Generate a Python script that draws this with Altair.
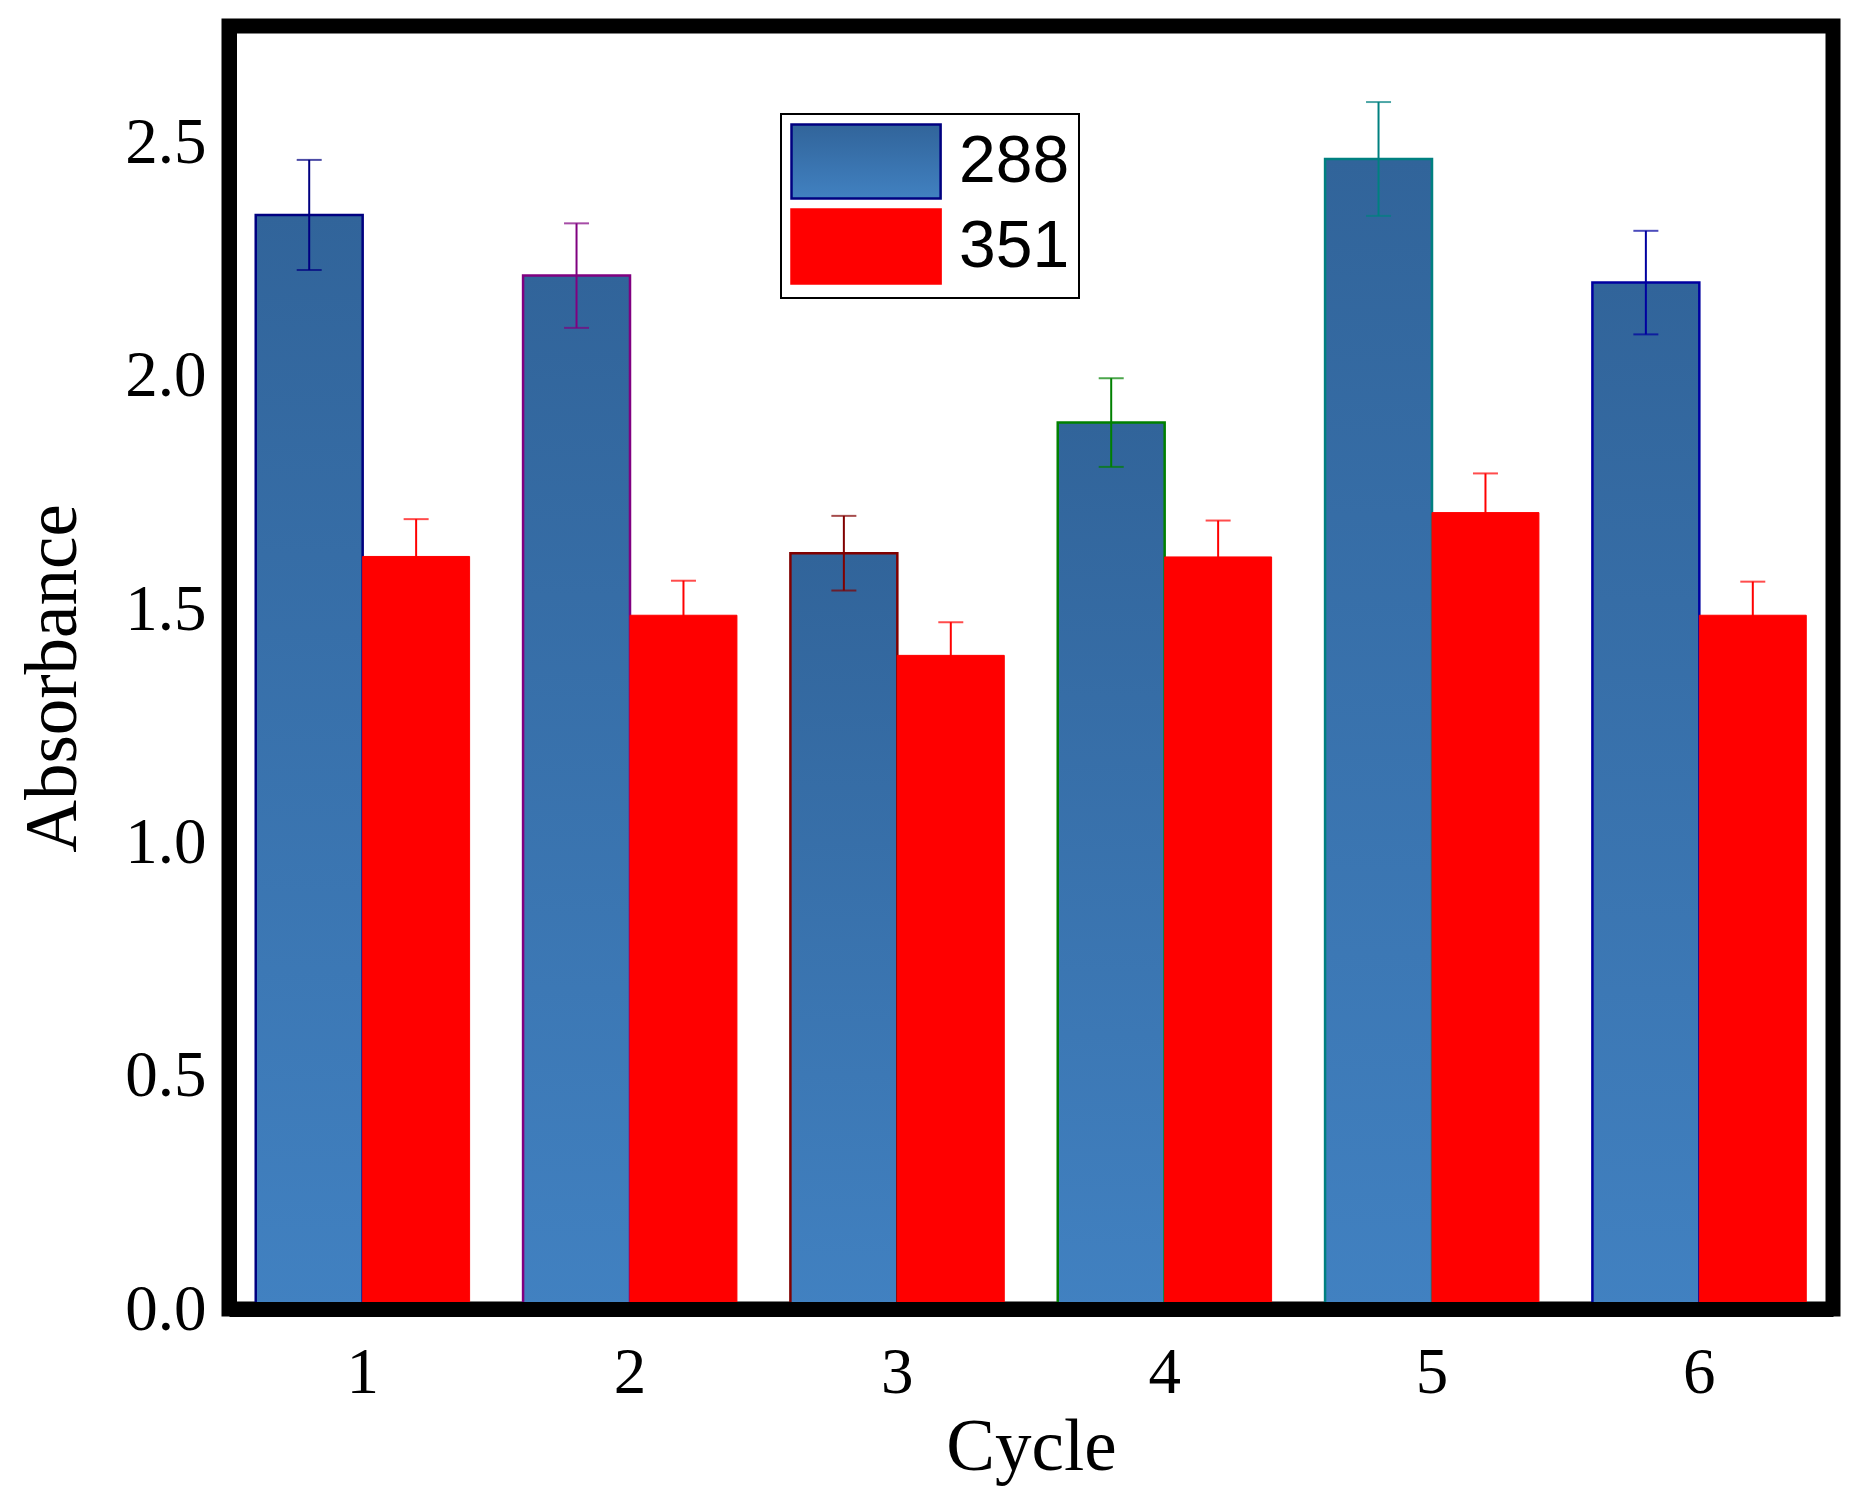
import altair as alt
import pandas as pd

cycles = ["1", "2", "3", "4", "5", "6"]
series = ["288", "351"]
abs_288 = [2.345, 2.215, 1.62, 1.90, 2.465, 2.20]
err_288 = [0.118, 0.112, 0.08, 0.095, 0.122, 0.111]
abs_351 = [1.613, 1.487, 1.401, 1.612, 1.707, 1.487]
err_351 = [0.08, 0.074, 0.071, 0.078, 0.084, 0.072]
y_ticks = [0.0, 0.5, 1.0, 1.5, 2.0, 2.5]

# styles
edge_288 = ["#000080", "#800080", "#800000", "#008000", "#008080", "#0000A0"]
red = "#FF0000"
navy = "#000080"
grad_top = "#31649A"
grad_bot = "#4181C1"

rows = []
for i, c in enumerate(cycles):
    rows.append({"cycle": c, "series": "288", "value": abs_288[i],
                 "lo": abs_288[i] - err_288[i], "hi": abs_288[i] + err_288[i],
                 "edge": edge_288[i]})
    rows.append({"cycle": c, "series": "351", "value": abs_351[i],
                 "lo": abs_351[i] - err_351[i], "hi": abs_351[i] + err_351[i],
                 "edge": red})
df = pd.DataFrame(rows)
df288 = df[df.series == "288"]
df351 = df[df.series == "351"]

gradient = alt.Gradient(
    gradient="linear", x1=0, y1=0, x2=0, y2=1,
    stops=[alt.GradientStop(color=grad_top, offset=0),
           alt.GradientStop(color=grad_bot, offset=1)])
grad_expr = ("{gradient: 'linear', x1: 0, y1: 0, x2: 0, y2: 1, stops: ["
             "{offset: 0, color: '" + grad_top + "'}, {offset: 1, color: '" + grad_bot + "'}]}")
sym_fill_expr = "datum.value === '288' ? " + grad_expr + " : '" + red + "'"

serif = "Liberation Serif"
sans = "Liberation Sans"

x_enc = alt.X("cycle:N", title="Cycle", sort=cycles,
              scale=alt.Scale(paddingInner=0.2, paddingOuter=0.1),
              axis=alt.Axis(labelAngle=0, ticks=False, labelPadding=32,
                            domainColor="black", domainWidth=15, zindex=1,
                            titlePadding=6))
xo_enc = alt.XOffset("series:N", scale=alt.Scale(domain=series))
y_axis = alt.Axis(values=y_ticks, format=".1f", ticks=False, grid=False,
                  labelPadding=23, domainColor="black", domainWidth=15,
                  zindex=1, titlePadding=34, titleY=652)
y_scale = alt.Scale(domain=[0, 2.75], nice=False)

bars288 = alt.Chart(df288).mark_bar(fill=gradient, strokeWidth=2.5).encode(
    x=x_enc, xOffset=xo_enc,
    y=alt.Y("value:Q", title="Absorbance", scale=y_scale, axis=y_axis),
    stroke=alt.Stroke("edge:N", scale=None),
)

# symbol path: 4 units wide, 2 units tall, shifted so its left edge sits at the entry start
legend = alt.Legend(
    title=None, orient="none", legendX=552, legendY=88, padding=9,
    strokeColor="black", fillColor="white",
    symbolType="M-1,-1H3.03V1H-1Z", symbolSize=5476,
    symbolFillColor={"expr": sym_fill_expr},
    symbolStrokeWidth=2.5, rowPadding=0, labelOffset=92,
    labelFont=sans, labelFontSize=66, labelColor="black",
)

bars351 = alt.Chart(df351).mark_bar(strokeWidth=1).encode(
    x=x_enc, xOffset=xo_enc,
    y=alt.Y("value:Q", title="Absorbance", scale=y_scale, axis=y_axis),
    fill=alt.Fill("series:N",
                  scale=alt.Scale(domain=series, range=[grad_bot, red]),
                  legend=legend),
    stroke=alt.Stroke("series:N",
                      scale=alt.Scale(domain=series, range=[navy, red]),
                      legend=legend),
)

err_rule = alt.Chart(df).mark_rule(strokeWidth=2).encode(
    x=x_enc, xOffset=xo_enc,
    y=alt.Y("lo:Q", title="Absorbance", scale=y_scale, axis=y_axis),
    y2="hi:Q",
    stroke=alt.Stroke("edge:N", scale=None),
)
cap_lo = alt.Chart(df).mark_tick(size=25, thickness=2, orient="horizontal").encode(
    x=x_enc, xOffset=xo_enc,
    y=alt.Y("lo:Q", title="Absorbance", scale=y_scale, axis=y_axis),
    color=alt.Color("edge:N", scale=None),
)
cap_hi = alt.Chart(df).mark_tick(size=25, thickness=2, orient="horizontal").encode(
    x=x_enc, xOffset=xo_enc,
    y=alt.Y("hi:Q", title="Absorbance", scale=y_scale, axis=y_axis),
    color=alt.Color("edge:N", scale=None),
)

chart = alt.layer(bars288, bars351, err_rule, cap_lo, cap_hi).resolve_scale(
    stroke="independent"
).properties(
    width=1604, height=1283,
    padding={"left": 9, "top": 18, "right": 20, "bottom": 10},
).configure(
    background="white"
).configure_view(
    stroke="black", strokeWidth=15
).configure_axis(
    labelFont=serif, labelFontSize=65, labelColor="black",
    titleFont=serif, titleFontSize=73, titleFontWeight="normal", titleColor="black",
).configure_legend(
    strokeWidth=2
)

chart.save("out.html", embed_options={"renderer": "svg", "actions": False})
